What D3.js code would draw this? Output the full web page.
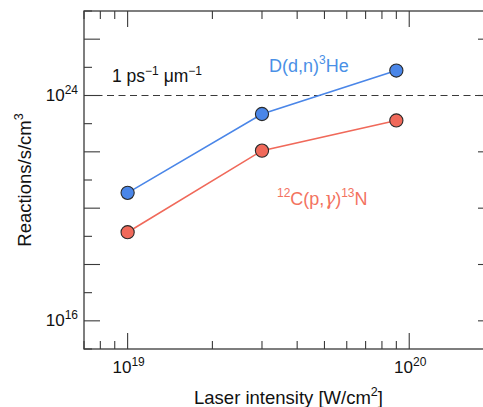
<!DOCTYPE html>
<html>
<head>
<meta charset="utf-8">
<script src="https://cdn.jsdelivr.net/npm/d3@7"></script>
<style>
  html, body { margin: 0; padding: 0; background: #fff; }
  svg { display: block; font-family: "Liberation Sans", Arial, Helvetica, sans-serif; }
</style>
</head>
<body>
<div id="chart"></div>
<script>
// laser intensity (W/cm^2) of each simulation
const intensity = [1e19, 3e19, 9e19];
// reaction rates (reactions/s/cm^3)
const ddnRate = [3.5e20, 2.2e23, 7.7e24];
const cpgRate = [1.4e19, 1.1e22, 1.3e23];
// reference level: 1 ps^-1 um^-1
const refRate = 1e24;
// labelled decades
const xLabelExp = [19, 20];
const yLabelExp = [16, 24];

var width = 483, height = 407;
// plot frame (right edge sits just outside the window)
var fLeft = 84, fTop = 11, fRight = 494, fBottom = 349;
var frameColor = '#3a3a3a';
var blue = '#4a86e8', red = '#f0695a';

var x = d3.scaleLog().domain([7e18, 2e20]).range([fLeft, fRight]);
var y = d3.scaleLog().domain([1e15, 1e27]).range([fBottom, fTop]);

var svg = d3.select('#chart')
  .append('svg')
  .attr('width', width)
  .attr('height', height);

// frame
svg.append('rect')
  .attr('x', fLeft).attr('y', fTop)
  .attr('width', fRight - fLeft).attr('height', fBottom - fTop)
  .attr('fill', 'none')
  .attr('stroke', frameColor)
  .attr('stroke-width', 1.3);

var isPow10 = function (v) {
  var e = Math.log10(v);
  return Math.abs(e - Math.round(e)) < 1e-9;
};

// x ticks, bottom and top
var xt = x.ticks();
var g = svg.append('g').attr('stroke', frameColor).attr('stroke-width', 1.1);
xt.forEach(function (v) {
  var len = isPow10(v) ? 16 : 8;
  var px = x(v);
  g.append('line').attr('x1', px).attr('x2', px).attr('y1', fBottom).attr('y2', fBottom - len);
  g.append('line').attr('x1', px).attr('x2', px).attr('y1', fTop).attr('y2', fTop + len);
});

// y ticks, left and right (long ones on even decades)
var yt = y.ticks(12);
yt.forEach(function (v) {
  var e = Math.round(Math.log10(v));
  var len = e % 2 === 0 ? 16 : 8;
  var py = y(v);
  g.append('line').attr('x1', fLeft).attr('x2', fLeft + len).attr('y1', py).attr('y2', py);
  g.append('line').attr('x1', fRight).attr('x2', fRight - len).attr('y1', py).attr('y2', py);
});

// tick labels
xLabelExp.forEach(function (e) {
  var t = svg.append('text')
    .attr('x', x(Math.pow(10, e)) + 1)
    .attr('y', fBottom + 24)
    .attr('text-anchor', 'middle')
    .attr('font-size', 17)
    .attr('fill', '#111');
  t.append('tspan').text('10');
  t.append('tspan').attr('dy', -7).attr('font-size', 12).text(e);
});
yLabelExp.forEach(function (e) {
  var t = svg.append('text')
    .attr('x', fLeft - 6)
    .attr('y', y(Math.pow(10, e)) + 5)
    .attr('text-anchor', 'end')
    .attr('font-size', 17)
    .attr('fill', '#111');
  t.append('tspan').text('10');
  t.append('tspan').attr('dy', -7).attr('font-size', 12).text(e);
});

// axis titles
var xt1 = svg.append('text')
  .attr('x', (fLeft + 483) / 2 + 5)
  .attr('y', 404)
  .attr('text-anchor', 'middle')
  .attr('font-size', 18.5)
  .attr('fill', '#111');
xt1.append('tspan').text('Laser intensity [W/cm');
xt1.append('tspan').attr('dy', -8).attr('font-size', 12.5).text('2');
xt1.append('tspan').attr('dy', 8).text(']');

var yt1 = svg.append('text')
  .attr('transform', 'translate(31,180) rotate(-90)')
  .attr('text-anchor', 'middle')
  .attr('font-size', 18.5)
  .attr('fill', '#111');
yt1.append('tspan').text('Reactions/s/cm');
yt1.append('tspan').attr('dy', -8).attr('font-size', 12.5).text('3');

// reference dashed line
svg.append('line')
  .attr('x1', fLeft).attr('x2', fRight)
  .attr('y1', y(refRate)).attr('y2', y(refRate))
  .attr('stroke', frameColor)
  .attr('stroke-width', 1.2)
  .attr('stroke-dasharray', '7,4.5');

var ref = svg.append('text')
  .attr('x', 112).attr('y', 82)
  .attr('font-size', 17.5)
  .attr('fill', '#111');
ref.append('tspan').text('1 ps');
ref.append('tspan').attr('dy', -7).attr('font-size', 12).text('\u22121');
ref.append('tspan').attr('dy', 7).text(' \u03bcm');
ref.append('tspan').attr('dy', -7).attr('font-size', 12).text('\u22121');

// series
var line = d3.line().x(function (d) { return x(d[0]); }).y(function (d) { return y(d[1]); });
[[cpgRate, red], [ddnRate, blue]].forEach(function (s) {
  var pts = intensity.map(function (v, i) { return [v, s[0][i]]; });
  svg.append('path')
    .attr('d', line(pts))
    .attr('fill', 'none')
    .attr('stroke', s[1])
    .attr('stroke-width', 1.6);
  svg.selectAll(null)
    .data(pts)
    .enter()
    .append('circle')
    .attr('cx', function (d) { return x(d[0]); })
    .attr('cy', function (d) { return y(d[1]); })
    .attr('r', 6.6)
    .attr('fill', s[1])
    .attr('stroke', '#2a2a2a')
    .attr('stroke-width', 1.1);
});

// series labels
var lb = svg.append('text')
  .attr('x', 269).attr('y', 72)
  .attr('font-size', 18)
  .attr('fill', '#4a90e6');
lb.append('tspan').text('D(d,n)');
lb.append('tspan').attr('dy', -8).attr('font-size', 12).text('3');
lb.append('tspan').attr('dy', 8).text('He');

var lr = svg.append('text')
  .attr('x', 277).attr('y', 205)
  .attr('font-size', 18)
  .attr('fill', '#f3735f');
lr.append('tspan').attr('dy', -8).attr('font-size', 12).text('12');
lr.append('tspan').attr('dy', 8).text('C(p,');
lr.append('tspan').attr('font-style', 'italic').attr('font-family', '"DejaVu Serif", serif').text('\u03b3');
lr.append('tspan').text(')');
lr.append('tspan').attr('dy', -8).attr('font-size', 12).text('13');
lr.append('tspan').attr('dy', 8).text('N');
</script>
</body>
</html>
